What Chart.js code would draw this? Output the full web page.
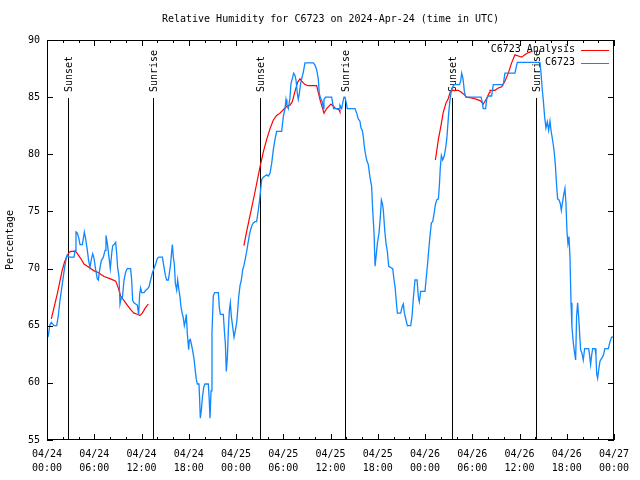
<!DOCTYPE html>
<html>
<head>
<meta charset="utf-8">
<script src="https://cdn.jsdelivr.net/npm/chart.js@4"></script>
<style>
  body { margin: 0; background: #fff; }
  #wrap { width: 640px; height: 480px; }
</style>
</head>
<body>
<div id="wrap"><canvas id="rh" width="640" height="480"></canvas></div>
<script>
const FONT = "'DejaVu Sans Mono', 'Liberation Mono', monospace";
const titleText = "Relative Humidity for C6723 on 2024-Apr-24 (time in UTC)";

// x axis is hours since 04/24 00:00 UTC
const xTickLabels = [
  ["04/24", "00:00"], ["04/24", "06:00"], ["04/24", "12:00"], ["04/24", "18:00"],
  ["04/25", "00:00"], ["04/25", "06:00"], ["04/25", "12:00"], ["04/25", "18:00"],
  ["04/26", "00:00"], ["04/26", "06:00"], ["04/26", "12:00"], ["04/26", "18:00"],
  ["04/27", "00:00"],
];
const yTickLabels = [55, 60, 65, 70, 75, 80, 85, 90];

const sunHours = [2.71, 13.5, 27.05, 37.84, 51.47, 62.1];
const sunLabels = ["Sunset", "Sunrise", "Sunset", "Sunrise", "Sunset", "Sunrise"];

// C6723 observations
const obsHours = [
  0.13, 0.38, 0.55, 0.89, 1.23, 1.40, 1.65, 1.95, 2.24, 2.45, 2.58, 2.79, 3.43, 3.56, 3.68, 3.85,
  4.06, 4.19, 4.49, 4.61, 4.74, 4.91, 5.12, 5.29, 5.46, 5.63, 5.80, 5.97, 6.18, 6.39, 6.52, 6.69,
  6.90, 7.15, 7.37, 7.49, 7.66, 7.87, 8.04, 8.21, 8.34, 8.51, 8.72, 8.85, 8.97, 9.14, 9.27, 9.44,
  9.57, 9.78, 9.99, 10.20, 10.62, 10.75, 10.88, 11.05, 11.26, 11.47, 11.64, 11.77, 11.89, 12.02,
  12.32, 12.53, 12.74, 12.95, 13.16, 13.37, 13.59, 13.80, 14.01, 14.22, 14.65,
  14.86, 15.03, 15.20, 15.41, 15.54, 15.70, 15.83, 15.92, 16.04, 16.17, 16.30, 16.47, 16.59, 16.76,
  16.89, 17.02, 17.19, 17.31, 17.44, 17.57, 17.69, 17.82, 17.99, 18.07, 18.20, 18.33, 18.50, 18.67,
  18.84, 18.96, 19.09, 19.30, 19.39, 19.47, 19.60, 19.73, 19.90, 20.06, 20.49, 20.61, 20.70, 20.83,
  20.95, 21.12, 21.29, 21.76, 21.88, 22.01, 22.39, 22.52, 22.65, 22.77, 22.90, 23.03, 23.15, 23.28,
  23.41, 23.58, 23.75, 23.92, 24.09, 24.21, 24.34, 24.51, 24.68, 24.85, 25.02, 25.19, 25.36, 25.52,
  25.69, 25.86, 26.03, 26.20,
  26.41, 26.62, 26.83, 27.00, 27.13, 27.26, 27.47, 27.68, 27.89, 28.10, 28.31, 28.53, 28.74, 28.95,
  29.16, 29.80, 30.01, 30.22, 30.35, 30.47, 30.64, 30.85, 30.98, 31.15, 31.32, 31.49, 31.62, 31.79,
  31.91, 32.04, 32.21, 32.34, 32.55, 32.76, 32.97, 33.82, 34.03, 34.24, 34.45, 34.58, 34.75, 34.96,
  35.09, 35.17, 35.38, 36.15, 36.27, 36.40, 37.08, 37.20, 37.42, 37.58, 37.71, 37.84, 37.97, 38.13,
  39.11, 39.32, 39.53, 39.74, 39.87, 40.04, 40.17, 40.29, 40.42, 40.59, 40.80, 41.01,
  41.22, 41.36, 41.53, 41.66, 41.78, 41.95, 42.16, 42.33, 42.46, 42.59, 42.71, 42.88, 43.05, 43.22,
  43.39, 43.90, 44.07, 44.20, 44.32, 44.49, 44.91, 45.12, 45.25, 45.38, 45.59, 45.76, 46.18, 46.35,
  46.52, 46.73, 46.99, 47.16, 47.28, 47.45, 48.00, 48.13, 48.30, 48.47, 48.64, 48.81, 48.98, 49.15,
  49.32, 49.49, 49.70, 49.82, 49.95, 50.08, 50.25, 50.42, 50.59, 50.76, 50.88, 51.01, 51.18, 51.35,
  51.52, 51.69, 52.37, 52.53, 52.66, 52.83, 53.00, 53.17, 55.12,
  55.29, 55.40, 55.70, 55.83, 56.00, 56.46, 56.67, 57.94, 58.15, 59.42, 59.72, 62.60, 62.73, 62.90,
  63.02, 63.19, 63.36, 63.53, 63.70, 63.87, 64.00, 64.20, 64.38, 64.55, 64.72, 64.84, 65.01, 65.18,
  65.31, 65.44, 65.60, 65.77, 65.90, 66.03, 66.15, 66.28, 66.41, 66.54, 66.66, 66.83, 67.00, 67.13,
  67.25, 67.38, 67.51, 67.64, 67.76, 67.93, 68.10, 68.27, 68.78, 68.90, 69.03, 69.16, 69.29, 69.59,
  69.71, 69.80, 69.92, 70.05, 70.22, 70.39, 70.64, 70.85, 71.28, 71.49, 71.70, 71.91,
];
const obsRh = [
  64.0, 65.1, 65.3, 65.0, 65.0, 65.7, 67.2, 68.7, 70.1, 71.0, 71.2, 71.0, 71.0, 71.6, 73.2, 73.1,
  72.6, 72.1, 72.1, 72.6, 73.2, 72.6, 71.6, 70.7, 70.1, 70.8, 71.3, 70.9, 69.9, 69.1, 69.0, 69.9,
  70.7, 71.0, 71.6, 72.9, 72.2, 71.0, 70.0, 71.3, 72.0, 72.1, 72.3, 71.3, 70.1, 69.3, 66.9, 67.5,
  67.4, 69.0, 69.7, 70.0, 70.0, 69.0, 67.2, 67.0, 66.9, 66.8, 66.0, 67.8, 68.3, 67.9,
  67.9, 68.1, 68.2, 68.4, 69.0, 69.6, 70.0, 70.4, 70.9, 71.0, 71.0,
  70.1, 69.4, 69.0, 69.0, 69.6, 70.4, 71.5, 72.1, 71.0, 70.4, 68.7, 68.1, 69.0, 68.1,
  67.5, 66.6, 66.0, 65.7, 65.0, 65.4, 66.0, 64.3, 62.9, 63.7, 63.8, 63.4, 62.8, 62.1,
  61.0, 60.3, 59.9, 59.9, 58.4, 56.9, 57.6, 58.7, 59.6, 59.9, 59.9, 58.4, 56.9, 59.3,
  64.4, 67.6, 67.9, 67.9, 66.6, 66.0, 66.0, 64.6, 63.4, 61.0, 62.2, 64.6, 66.3, 67.0,
  65.8, 64.9, 64.0, 64.6, 65.3, 66.3, 67.5, 68.5, 69.0, 69.9, 70.3, 70.9, 71.5, 72.2,
  72.9, 73.4, 73.8, 74.0,
  74.1, 74.1, 75.1, 76.0, 76.9, 77.8, 78.0, 78.1, 78.2, 78.1, 78.3, 79.2, 80.4, 81.3,
  82.0, 82.0, 83.3, 84.0, 84.8, 84.3, 84.0, 84.9, 86.2, 86.6, 87.1, 86.9, 86.5, 85.3,
  84.8, 85.3, 86.2, 86.6, 87.2, 88.0, 88.0, 88.0, 87.8, 87.4, 86.6, 85.3, 84.9, 84.6,
  84.0, 84.8, 85.0, 85.0, 84.5, 84.0, 84.0, 84.3, 84.0, 84.6, 85.0, 85.0, 84.6, 84.0,
  84.0, 83.6, 83.1, 82.9, 82.3, 82.1, 81.5, 80.7, 80.1, 79.5, 79.1, 78.0,
  77.2, 75.1, 73.1, 70.2, 71.0, 72.2, 73.1, 74.5, 76.0, 75.7, 75.1, 73.4, 72.2, 71.5,
  70.2, 70.0, 69.0, 68.4, 67.4, 66.1, 66.1, 66.7, 66.9, 66.1, 65.5, 65.0, 65.0, 65.8,
  67.4, 69.0, 69.0, 67.5, 67.1, 68.0, 68.0, 69.0, 70.2, 71.6, 72.9, 74.0, 74.1, 74.8,
  75.6, 76.0, 76.1, 77.2, 78.9, 79.9, 79.5, 79.8, 80.4, 81.3, 82.4, 83.6, 84.8, 85.6,
  85.9, 86.1, 86.1, 86.4, 87.1, 86.6, 85.5, 85.0, 85.0,
  84.5, 84.0, 84.0, 84.8, 85.1, 85.1, 86.1, 86.1, 87.1, 87.1, 88.05, 88.05, 87.1, 85.6,
  84.75, 83.3, 82.3, 82.85, 82.1, 82.9, 82.1, 81.25, 80.4, 79.1, 77.2, 76.1, 76.0, 75.7,
  75.1, 75.7, 76.4, 77.0, 75.7, 73.2, 72.2, 72.8, 71.0, 67.0, 64.9, 63.5, 62.6, 62.0,
  65.8, 67.0, 65.8, 64.3, 62.9, 62.6, 62.0, 63.0, 63.0, 62.4, 61.6, 62.4, 63.0, 63.0,
  62.4, 60.8, 60.4, 61.1, 61.9, 62.1, 62.4, 63.0, 63.0, 63.6, 64.0, 64.0,
];

// C6723 Analysis (null = gap between runs)
const anaHours = [
  0.55, 1.31, 1.95, 2.24, 2.50, 2.79, 3.01, 3.64, 3.85, 4.27, 4.70, 5.12, 5.55, 5.97, 6.39, 6.81,
  7.24, 8.08, 8.72, 9.01, 9.35, 9.78, 10.20, 10.62, 11.05, 11.47, 11.81, 12.10, 12.53, 12.87,
  19,
  25.0, 25.4, 26.41, 27.05, 27.5, 27.9, 28.3, 28.74, 29.16, 29.58, 30.01, 30.43, 30.85, 31.15,
  31.49, 31.83, 32.12, 32.34, 32.76, 33.18, 34.24, 34.66, 35.17, 35.51, 36.06, 36.36, 36.65, 37.08,
  37.2,
  45,
  49.32, 49.70, 50.00, 50.33, 50.67, 50.97, 51.18, 51.52, 51.94, 52.24, 52.66, 53.00, 53.30, 53.72,
  54.14, 54.57, 54.99, 55.41, 55.84, 56.17, 56.25, 56.88, 57.31, 57.73, 58.15, 58.58, 59.00, 59.42,
  59.85, 60.27, 60.69, 61.12, 61.54,
];
const anaRh = [
  65.6, 67.8, 69.9, 70.6, 71.0, 71.4, 71.5, 71.5, 71.3, 70.9, 70.4, 70.2, 70.0, 69.8, 69.7, 69.5,
  69.3, 69.1, 68.9, 68.4, 67.6, 67.2, 66.8, 66.4, 66.1, 66.0, 65.9, 66.1, 66.6, 66.9,
  null,
  72.0, 73.4, 76.7, 78.9, 80.3, 81.3, 82.2, 83.0, 83.4, 83.6, 83.9, 84.2, 84.3, 84.6,
  85.5, 86.3, 86.6, 86.4, 86.1, 86.0, 86.0, 84.8, 83.6, 84.0, 84.4, 84.2, 84.0, 83.9,
  83.7,
  null,
  79.5, 81.3, 82.4, 83.7, 84.5, 84.9, 85.4, 85.6, 85.6, 85.6, 85.4, 85.2, 85.0, 84.95,
  84.9, 84.8, 84.7, 84.4, 84.9, 85.4, 85.6, 85.6, 85.8, 85.9, 86.4, 87.1, 88.0, 88.7,
  88.6, 88.5, 88.7, 88.9, 89.0,
];

const RED = "#ff0000";
const BLUE = "#0f87ff";

const gnuplotFrame = {
  id: "gnuplotFrame",
  beforeDatasetsDraw(chart) {
    const { ctx, chartArea: ca, scales } = chart;
    ctx.save();
    ctx.strokeStyle = "#000";
    ctx.fillStyle = "#000";
    ctx.lineWidth = 1;
    ctx.font = "10px " + FONT;
    sunHours.forEach((h, i) => {
      const x = Math.round(scales.x.getPixelForValue(h)) + 0.5;
      ctx.beginPath();
      ctx.moveTo(x, ca.top + 58);
      ctx.lineTo(x, ca.bottom);
      ctx.stroke();
      ctx.save();
      ctx.translate(x + 1, ca.top + 52);
      ctx.rotate(-Math.PI / 2);
      ctx.textAlign = "left";
      ctx.textBaseline = "middle";
      ctx.fillText(sunLabels[i], 0, 0);
      ctx.restore();
    });
    ctx.restore();
  },
  afterDraw(chart) {
    const { ctx, chartArea: ca, scales } = chart;
    ctx.save();
    ctx.strokeStyle = "#000";
    ctx.lineWidth = 1;
    const seg = (x1, y1, x2, y2) => {
      ctx.beginPath();
      ctx.moveTo(x1, y1);
      ctx.lineTo(x2, y2);
      ctx.stroke();
    };
    // x ticks, major every 6h, minor every 2h, mirrored on top
    for (let h = 0; h <= 72; h += 2) {
      const x = Math.round(scales.x.getPixelForValue(h)) + 0.5;
      const len = h % 6 === 0 ? 6 : 3;
      seg(x, ca.bottom, x, ca.bottom - len);
      seg(x, ca.top, x, ca.top + len);
    }
    yTickLabels.forEach((v) => {
      const y = Math.round(scales.y.getPixelForValue(v)) + 0.5;
      seg(ca.left, y, ca.left + 6, y);
      seg(ca.right, y, ca.right - 6, y);
    });
    ctx.strokeRect(ca.left + 0.5, ca.top + 0.5, ca.width - 1, ca.height - 1);

    // title
    ctx.fillStyle = "#000";
    ctx.font = "10px " + FONT;
    ctx.textAlign = "center";
    ctx.textBaseline = "middle";
    ctx.fillText(titleText, (ca.left + ca.right) / 2, 19);

    // legend
    const entries = [
      ["C6723 Analysis", RED],
      ["C6723", BLUE],
    ];
    entries.forEach(([label, color], i) => {
      const y = ca.top + 9.5 + i * 13;
      ctx.textAlign = "right";
      ctx.fillStyle = "#000";
      ctx.fillText(label, ca.right - 39, y);
      ctx.strokeStyle = color;
      seg(ca.right - 33, Math.round(y) + 0.5, ca.right - 5, Math.round(y) + 0.5);
    });
    ctx.restore();
  },
};

const toPoints = (xs, ys) => xs.map((x, i) => ({ x: x, y: ys[i] }));

new Chart(document.getElementById("rh"), {
  type: "line",
  data: {
    datasets: [
      {
        label: "C6723",
        data: toPoints(obsHours, obsRh),
        borderColor: BLUE,
        borderWidth: 1.3,
        pointRadius: 0,
        tension: 0,
        fill: false,
      },
      {
        label: "C6723 Analysis",
        data: toPoints(anaHours, anaRh),
        borderColor: RED,
        borderWidth: 1.2,
        pointRadius: 0,
        tension: 0,
        fill: false,
        spanGaps: false,
      },
    ],
  },
  options: {
    responsive: false,
    animation: false,
    layout: { padding: { top: 40, right: 26, left: 0, bottom: 0 } },
    plugins: {
      legend: { display: false },
      tooltip: { enabled: false },
      title: { display: false },
    },
    scales: {
      x: {
        type: "linear",
        min: 0,
        max: 72,
        grid: { display: false, drawTicks: false },
        border: { display: false },
        afterBuildTicks: (s) => {
          s.ticks = xTickLabels.map((_, i) => ({ value: i * 6 }));
        },
        afterFit: (s) => {
          s.height = 40;
        },
        ticks: {
          autoSkip: false,
          maxRotation: 0,
          padding: 7,
          color: "#000",
          font: { family: FONT, size: 10, lineHeight: 1.4 },
          callback: (v, i) => xTickLabels[i],
        },
      },
      y: {
        min: 55,
        max: 90,
        grid: { display: false, drawTicks: false },
        border: { display: false },
        afterBuildTicks: (s) => {
          s.ticks = yTickLabels.map((v) => ({ value: v }));
        },
        afterFit: (s) => {
          s.width = 47;
        },
        ticks: {
          padding: 7,
          color: "#000",
          font: { family: FONT, size: 10 },
          callback: (v, i) => String(yTickLabels[i]),
        },
        title: {
          display: true,
          text: "Percentage",
          color: "#000",
          font: { family: FONT, size: 10 },
          padding: { top: 4, bottom: 0 },
        },
      },
    },
  },
  plugins: [gnuplotFrame],
});
</script>
</body>
</html>
